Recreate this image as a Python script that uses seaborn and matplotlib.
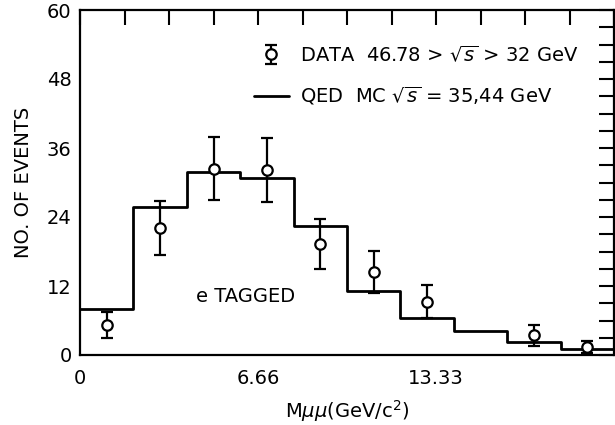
import numpy as np
import matplotlib
matplotlib.use("Agg")
import matplotlib.pyplot as plt
from matplotlib.ticker import FixedLocator, FixedFormatter
from matplotlib.lines import Line2D
import seaborn as sns

# Bin edges of the dimuon mass distribution (GeV/c^2)
bin_edges = [0, 2, 4, 6, 8, 10, 12, 14, 16, 18, 20]
# QED Monte Carlo prediction per bin
mc_counts = [8.0, 25.7, 31.8, 30.8, 22.4, 11.2, 6.4, 4.2, 2.3, 1.0]

# Measured data points (bin centres), counts and errors
data_mass = [1, 3, 5, 7, 9, 11, 13, 17, 19]
data_counts = [5.2, 22.1, 32.4, 32.2, 19.3, 14.4, 9.3, 3.4, 1.4]
data_errors = [2.3, 4.7, 5.5, 5.6, 4.4, 3.7, 2.9, 1.8, 1.1]

x_tick_labels = ["0", "6.66", "13.33"]
y_tick_labels = ["0", "12", "24", "36", "48", "60"]

sns.set_style("white")
plt.rcParams["font.family"] = ["DejaVu Sans"]
plt.rcParams["mathtext.fontset"] = "dejavusans"
plt.rcParams["text.color"] = "black"
plt.rcParams["axes.labelcolor"] = "black"
plt.rcParams["xtick.color"] = "black"
plt.rcParams["ytick.color"] = "black"

fig = plt.figure(figsize=(6.15, 4.25), dpi=100)
ax = fig.add_axes([80 / 615, 1 - 355 / 425, 534 / 615, 345 / 425])

bin_centres = [(a + b) / 2 for a, b in zip(bin_edges[:-1], bin_edges[1:])]
sns.histplot(x=bin_centres, weights=mc_counts, bins=bin_edges, element="step",
             fill=False, color="black", linewidth=2.0, ax=ax)

eb = ax.errorbar(data_mass, data_counts, yerr=data_errors, fmt="o", ms=7.5,
                 mfc="white", mec="black", mew=1.6, ecolor="black",
                 elinewidth=1.6, capsize=4.5, capthick=1.6, zorder=5)

ax.set_xlim(0, 20)
ax.set_ylim(0, 60)

# ticks: x every 5/3, y every 3; labels only on a few
x_ticks = np.arange(13) * 20 / 12
x_labels = [""] * 13
x_labels[0], x_labels[4], x_labels[8] = x_tick_labels
ax.xaxis.set_major_locator(FixedLocator(x_ticks))
ax.xaxis.set_major_formatter(FixedFormatter(x_labels))
y_ticks = np.arange(0, 61, 3)
y_labels = [""] * len(y_ticks)
for i, lab in enumerate(y_tick_labels):
    y_labels[i * 4] = lab
ax.yaxis.set_major_locator(FixedLocator(y_ticks))
ax.yaxis.set_major_formatter(FixedFormatter(y_labels))
ax.tick_params(axis="both", direction="in", length=11, width=1.5,
               top=True, right=True, labelsize=14, colors="black")
ax.tick_params(axis="x", pad=10)
ax.tick_params(axis="y", pad=6)

for sp in ax.spines.values():
    sp.set_linewidth(1.6)
    sp.set_color("black")

ax.set_xlabel(r"M$\mu\mu$(GeV/c$^{2}$)", fontsize=14, labelpad=7)
ax.set_ylabel("NO. OF EVENTS", fontsize=14, labelpad=10)

ax.text(6.2, 10.1, "e TAGGED", ha="center", va="center", fontsize=14)

line_handle = Line2D([], [], color="black", linewidth=2.0)
ax.legend(handles=[eb, line_handle],
          labels=[r"DATA  46.78 > $\sqrt{s}$ > 32 GeV",
                  r"QED  MC $\sqrt{s}$ = 35,44 GeV"],
          loc="upper left", bbox_to_anchor=(0.325, 0.90), frameon=False,
          fontsize=14, handlelength=1.8, handletextpad=0.6,
          labelspacing=1.0, borderpad=0, borderaxespad=0)

fig.savefig("out.png", dpi=100)
